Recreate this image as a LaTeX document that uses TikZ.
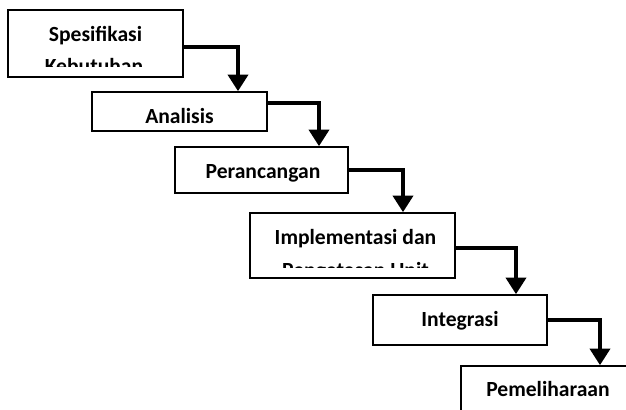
\documentclass[tikz,border=0pt]{standalone}
\usepackage{fontspec}
\setmainfont{Carlito}
\usetikzlibrary{arrows.meta,fit}
\begin{document}
\begin{tikzpicture}[x=0.75pt,y=-0.75pt,
  box/.style={draw=black,line width=1.2pt,inner sep=0pt,rectangle},
  lbl/.style={anchor=base,inner sep=0pt,font=\fontsize{16.2}{19}\selectfont\bfseries},
  arr/.style={line width=3pt,-{Triangle[width=15pt,length=12.5pt]}}]
\useasboundingbox (0,0) rectangle (626,410);
\clip (0,0) rectangle (626,410);
% boxes
\node[box,fit={(8,10) (183,77)}] (b1) {};
\node[box,fit={(92,92) (267,131)}] (b2) {};
\node[box,fit={(175,147) (348,193)}] (b3) {};
\node[box,fit={(250,213) (455,278)}] (b4) {};
\node[box,fit={(373,295) (547,345)}] (b5) {};
\node[box,fit={(461,366) (635,440)}] (b6) {};
% texts (clipped as in text boxes)
\begin{scope}
\clip (9,11) rectangle (182,67);
\node[lbl] (t1a) at (95.5,42) {Spesifikasi};
\node[lbl] (t1b) at (94,74) {Kebutuhan};
\end{scope}
\node[lbl] (t2) at (179.5,124) {Analisis};
\node[lbl] (t3) at (263,179) {Perancangan};
\begin{scope}
\clip (251,214) rectangle (454,268);
\node[lbl] (t4a) at (355.5,245) {Implementasi dan};
\node[lbl] (t4b) at (355.5,277) {Pengetesan Unit};
\end{scope}
\node[lbl] (t5) at (460,326) {Integrasi};
\node[lbl] (t6) at (548,397) {Pemeliharaan};
% arrows
\draw[arr] (b1.east |- 0,47) -| (b2.north -| 238,0);
\draw[arr] (b2.east |- 0,103) -| (b3.north -| 319,0);
\draw[arr] (b3.east |- 0,170) -| (b4.north -| 403,0);
\draw[arr] (b4.east |- 0,248) -| (b5.north -| 516,0);
\draw[arr] (b5.east |- 0,320) -| (b6.north -| 600,0);
\end{tikzpicture}
\end{document}
